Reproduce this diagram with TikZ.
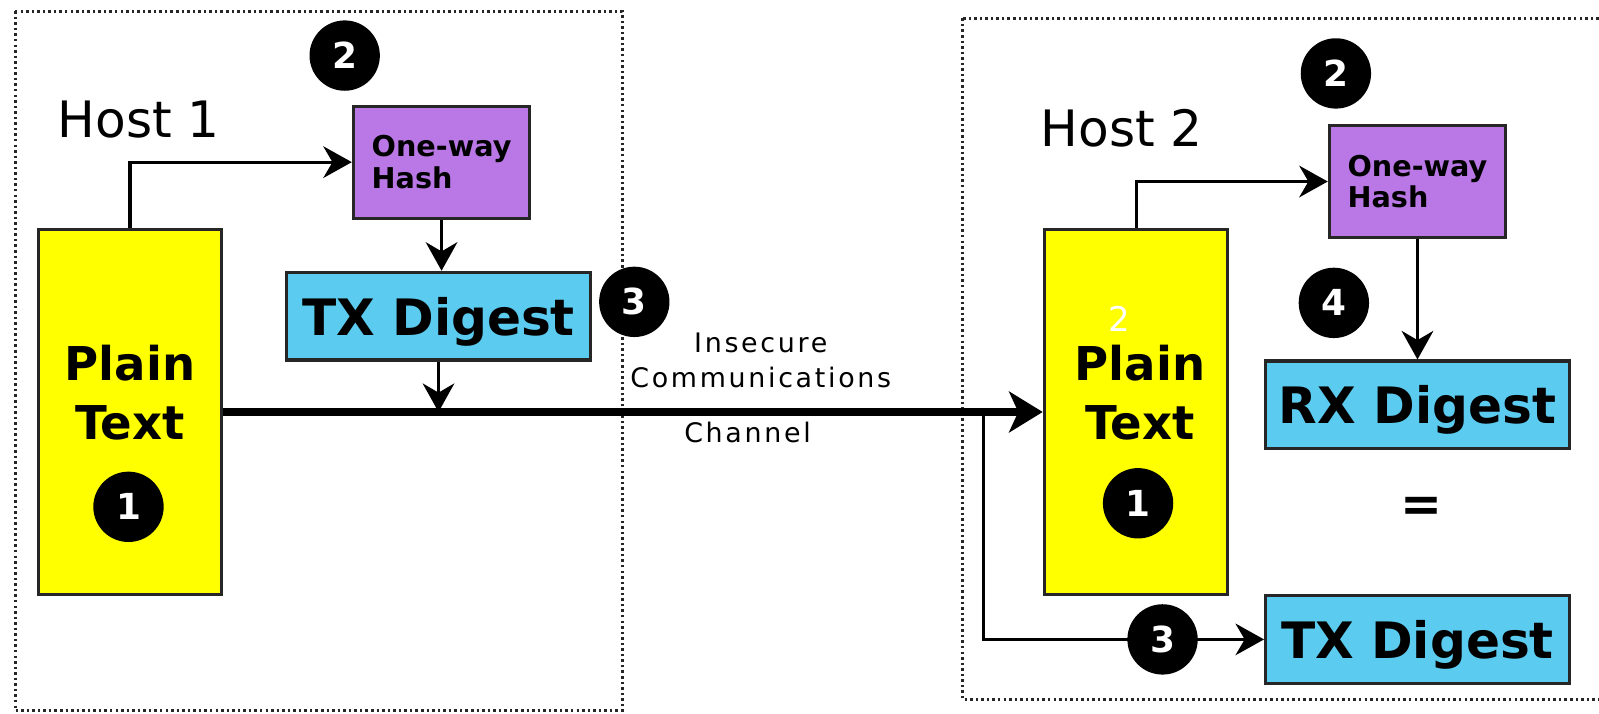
\documentclass[tikz,border=0pt]{standalone}
\usepackage{fontspec}
\setmainfont{DejaVu Sans}
\newfontfamily\chanfont[LetterSpace=10]{DejaVu Sans}
\usepackage{tikz}
\usetikzlibrary{arrows.meta,positioning}
\definecolor{hashpurple}{HTML}{B978E6}
\definecolor{digestblue}{HTML}{5BCBF0}
\definecolor{plainyellow}{HTML}{FFFF00}

\begin{document}
\begin{tikzpicture}[
    x=0.02cm, y=-0.02cm,
    frame/.style={draw=black!85, line width=1.7pt, dash pattern=on 1.4pt off 1.7pt},
    plainbox/.style={rectangle, draw=black!85, fill=plainyellow, line width=1.7pt, minimum width=3.6cm, minimum height=7.16cm},
    plaintext/.style={align=center, font=\fontsize{26pt}{33pt}\selectfont\bfseries},
    hashbox/.style={rectangle, draw=black!85, fill=hashpurple, line width=1.7pt, minimum width=3.46cm, minimum height=2.2cm, align=left, font=\fontsize{16pt}{17.5pt}\selectfont\bfseries},
    digestbox/.style={rectangle, draw=black!85, fill=digestblue, line width=1.7pt, minimum width=5.96cm, minimum height=1.72cm, text depth=0pt, font=\fontsize{28pt}{34pt}\selectfont\bfseries},
    badge/.style={circle, fill=black, text=white, minimum size=1.38cm, inner sep=0pt, font=\fontsize{20pt}{24pt}\selectfont\bfseries},
    hostlabel/.style={font=\fontsize{28pt}{34pt}\selectfont},
    arr/.style={-{Stealth[length=0.56cm, width=0.62cm, inset=0.18cm]}, line width=1.7pt},
    mainarr/.style={-{Stealth[length=0.66cm, width=0.8cm, inset=0.18cm]}, line width=4.5pt}
]
    \useasboundingbox (0,0) rectangle (1568,700);

    % Host frames
    \draw [frame] (15,11) rectangle (610,697);
    \draw [frame] (944,18) rectangle (1590,686);

    % Host 1
    \node (host1) [hostlabel] at (136,117) {Host 1};
    \node (pt1) [plainbox] at (127.5,404) {};
    \node (pt1txt) [plaintext] at (127.5,385) {Plain\\Text};
    \node (hash1) [hashbox] at (433,159) {One-way\\Hash};
    \node (tx1) [digestbox] at (430,310) {TX Digest};

    % Host 2
    \node (host2) [hostlabel] at (1100,125.5) {Host 2};
    \node (pt2) [plainbox] at (1114,404) {};
    \node (pt2txt) [plaintext] at (1118,385) {Plain\\Text};
    \node (pt2mark) [text=white, font=\fontsize{19pt}{22pt}\selectfont] at (1098,313) {2};
    \node (hash2) [hashbox] at (1390,178) {One-way\\Hash};
    \node (rx2) [digestbox] at (1390,397) {RX Digest};
    \node (eq) [font=\fontsize{28pt}{34pt}\selectfont\bfseries] at (1394,500) {=};
    \node (tx2) [digestbox] at (1390,627) {TX Digest};

    % Channel label
    \node (chan) [align=center, font=\fontsize{15pt}{19.3pt}\chanfont] at (746,353.5) {Insecure\\Communications};
    \node (chan2) [font=\fontsize{15pt}{19.3pt}\chanfont] at (733,424.5) {Channel};

    % Connectors
    \coordinate (tap1) at (tx1.south |- pt1.east);
    \coordinate (split) at (964.5,404);
    \draw [arr] (pt1.north) |- (hash1.west);
    \draw [arr] (hash1.south) -- (hash1.south |- tx1.north);
    \draw [arr] (tx1.south) -- (tap1);
    \draw [mainarr] (pt1.east) -- (pt2.west);
    \draw [arr] (pt2.north) |- (hash2.west);
    \draw [arr] (hash2.south) -- (rx2.north);
    \draw [arr] (split) |- (tx2.west);

    % Step badges
    \node (b1l) [badge] at (126,497) {1};
    \node (b2l) [badge] at (338,54.5) {2};
    \node (b3l) [badge] at (622,296) {3};
    \node (b1r) [badge] at (1116,493.5) {1};
    \node (b2r) [badge] at (1310,72) {2};
    \node (b4r) [badge] at (1308,297) {4};
    \node (b3r) [badge] at (1140,627) {3};
\end{tikzpicture}
\end{document}
